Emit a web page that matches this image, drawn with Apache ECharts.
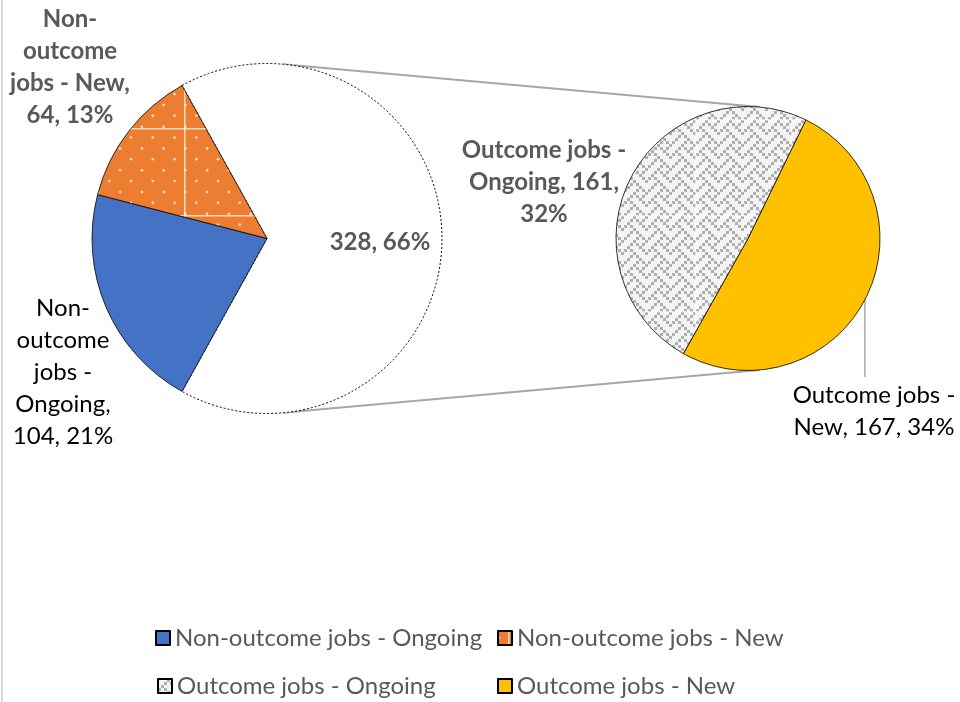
<!DOCTYPE html>
<html>
<head>
<meta charset="utf-8">
<script src="https://cdn.jsdelivr.net/npm/echarts@6/dist/echarts.min.js"></script>
<style>
  html, body { margin: 0; padding: 0; background: #ffffff; }
  #chart { width: 960px; height: 702px; }
</style>
</head>
<body>
<div id="chart"></div>
<script>
// Primary pie: the "Other" slice groups the outcome jobs that the secondary pie breaks down
const primaryNames = ['Other', 'Non-outcome jobs - Ongoing', 'Non-outcome jobs - New'];
const primaryValues = [328, 104, 64];

// Secondary pie: breakdown of the "Other" slice
const secondaryNames = ['Outcome jobs - New', 'Outcome jobs - Ongoing'];
const secondaryValues = [167, 161];

// Legend entries, in reading order
const legendNames = ['Non-outcome jobs - Ongoing', 'Non-outcome jobs - New',
                     'Outcome jobs - Ongoing', 'Outcome jobs - New'];

// Wrapped label text ({v} = value, {p} = percent of all jobs)
const labelTemplates = {
  'Other': '{v}, {p}%',
  'Non-outcome jobs - Ongoing': 'Non-\noutcome\njobs -\nOngoing,\n{v}, {p}%',
  'Non-outcome jobs - New': 'Non-\noutcome\njobs - New,\n{v}, {p}%',
  'Outcome jobs - Ongoing': 'Outcome jobs -\nOngoing, {v},\n{p}%',
  'Outcome jobs - New': 'Outcome jobs -\nNew, {v}, {p}%'
};

const FONT = 'Lato, "Open Sans", sans-serif';
const grandTotal = primaryValues.reduce((a, b) => a + b, 0);
const secondaryTotal = secondaryValues.reduce((a, b) => a + b, 0);

// Geometry of the two pies
const C1 = [267, 238.5], R1 = 175;
const C2 = [748, 238.5], R2 = 132;
const START1 = 0.5 * 360 * primaryValues[0] / grandTotal;   // "Other" slice centred on 3 o'clock
const START2 = 64;

// Label anchor points (centre of each text block)
const labelPos = {
  'Other': [380, 242],
  'Non-outcome jobs - Ongoing': [63, 372],
  'Non-outcome jobs - New': [70, 67],
  'Outcome jobs - Ongoing': [544, 182],
  'Outcome jobs - New': [874, 411]
};

// Orange fill with a grid of small white dots (tile seams included)
function dotPattern() {
  const T = 87, c = document.createElement('canvas');
  c.width = T; c.height = T;
  const g = c.getContext('2d');
  g.fillStyle = '#ED7D31';
  g.fillRect(0, 0, T, T);
  g.fillStyle = 'rgba(255,255,255,0.8)';
  const s = T / 4;
  const dot = (x, y) => {
    for (const ox of [-T, 0, T]) for (const oy of [-T, 0, T]) {
      g.beginPath(); g.arc(x + ox, y + oy, 1.25, 0, Math.PI * 2); g.fill();
    }
  };
  for (let i = 0; i < 4; i++) {
    for (let j = 0; j < 4; j++) {
      dot(0.5 + i * s, 7 + j * s);
      dot(0.5 + i * s + s / 2, 7 + j * s + s / 2);
    }
  }
  g.fillStyle = 'rgba(255,255,255,0.7)';
  g.fillRect(10, 0, 1.5, T);
  g.fillRect(0, 41, T, 1.5);
  return c;
}

// Grey weave hatch on white
function weavePattern() {
  const rows = [0x11, 0x2a, 0x44, 0xa2, 0x11, 0x28, 0x44, 0x8a];
  const cell = 3, T = 96, c = document.createElement('canvas');
  c.width = T; c.height = T;
  const g = c.getContext('2d');
  g.fillStyle = '#f4f4f4';
  g.fillRect(0, 0, T, T);
  g.fillStyle = '#b0b0b0';
  const n = T / cell;
  for (let r = 0; r < n; r++) {
    for (let k = 0; k < n; k++) {
      if (rows[r % 8] & (0x80 >> (k % 8))) g.fillRect(k * cell, r * cell, cell, cell);
    }
  }
  g.fillStyle = 'rgba(255,255,255,0.6)';
  g.fillRect(23, 0, 1.5, T);
  g.fillRect(0, 23, T, 1.5);
  return c;
}

const fills = {
  'Other': '#ffffff',
  'Non-outcome jobs - Ongoing': '#4472C4',
  'Non-outcome jobs - New': { image: dotPattern(), repeat: 'repeat' },
  'Outcome jobs - Ongoing': { image: weavePattern(), repeat: 'repeat' },
  'Outcome jobs - New': '#FFC000'
};
const boldLabels = { 'Other': true, 'Non-outcome jobs - New': true, 'Outcome jobs - Ongoing': true };

function labelFor(name, v) {
  return labelTemplates[name]
    .replace('{v}', v)
    .replace('{p}', Math.round(v / grandTotal * 100));
}

function buildData(names, values) {
  return names.map((name, i) => {
    const bold = !!boldLabels[name];
    const item = {
      name: name,
      value: values[i],
      itemStyle: {
        color: fills[name],
        borderColor: '#000000',
        borderWidth: 0.8
      },
      label: {
        formatter: labelFor(name, values[i]),
        fontFamily: FONT,
        fontSize: 24,
        lineHeight: 32,
        fontWeight: bold ? 'bold' : 'normal',
        color: bold ? '#595959' : '#000000'
      }
    };
    if (name === 'Other') {
      item.itemStyle.borderType = [2, 2];
      item.itemStyle.borderWidth = 1;
    }
    return item;
  });
}

function placeLabel(params) {
  const name = params.seriesIndex === 0 ? primaryNames[params.dataIndex] : secondaryNames[params.dataIndex];
  const p = labelPos[name];
  return { x: p[0], y: p[1], align: 'center', verticalAlign: 'middle' };
}

// Connector lines: outer tangents joining the two pies
const dx = C2[0] - C1[0];
const sn = (R1 - R2) / dx, cs = Math.sqrt(1 - sn * sn);
const connectors = [-1, 1].map(dir => ({
  type: 'line',
  z: 0,
  shape: {
    x1: C1[0] + R1 * sn, y1: C1[1] + dir * R1 * cs,
    x2: C2[0] + R2 * sn, y2: C2[1] + dir * R2 * cs
  },
  style: { stroke: '#a6a6a6', lineWidth: 2 }
}));

// Leader line from the middle of the "Outcome jobs - New" slice down to its label
const newSpan = 360 * secondaryValues[0] / secondaryTotal;
const midRad = (START2 - newSpan / 2) * Math.PI / 180;
const leadX = C2[0] + R2 * Math.cos(midRad);
const leadY = C2[1] - R2 * Math.sin(midRad);
const leader = {
  type: 'line',
  z: 0,
  shape: { x1: leadX, y1: leadY, x2: leadX, y2: labelPos['Outcome jobs - New'][1] - 34 },
  style: { stroke: '#a6a6a6', lineWidth: 1.5 }
};

const legendLeft = [155, 497, 157, 497];
const legendTop = [626, 626, 674, 674];

const chart = echarts.init(document.getElementById('chart'), null, { renderer: 'canvas' });
chart.setOption({
  animation: false,
  backgroundColor: '#ffffff',
  graphic: [
    { type: 'rect', z: 0, shape: { x: 1, y: 0, width: 2, height: 702 }, style: { fill: '#d9d9d9' } }
  ].concat(connectors, [leader]),
  legend: legendNames.map((name, i) => ({
    data: [name],
    left: legendLeft[i],
    top: legendTop[i],
    icon: 'rect',
    itemWidth: 14,
    itemHeight: 14,
    itemGap: 0,
    padding: 0,
    selectedMode: false,
    textStyle: { fontFamily: FONT, fontSize: 24, color: '#595959' }
  })),
  series: [
    {
      type: 'pie',
      center: C1,
      radius: R1,
      startAngle: START1,
      clockwise: true,
      avoidLabelOverlap: false,
      emphasis: { disabled: true },
      label: { show: true, position: 'outside' },
      labelLine: { show: false },
      labelLayout: placeLabel,
      data: buildData(primaryNames, primaryValues)
    },
    {
      type: 'pie',
      center: C2,
      radius: R2,
      startAngle: START2,
      clockwise: true,
      avoidLabelOverlap: false,
      emphasis: { disabled: true },
      label: { show: true, position: 'outside' },
      labelLine: { show: false },
      labelLayout: placeLabel,
      data: buildData(secondaryNames, secondaryValues)
    }
  ]
});
</script>
</body>
</html>
